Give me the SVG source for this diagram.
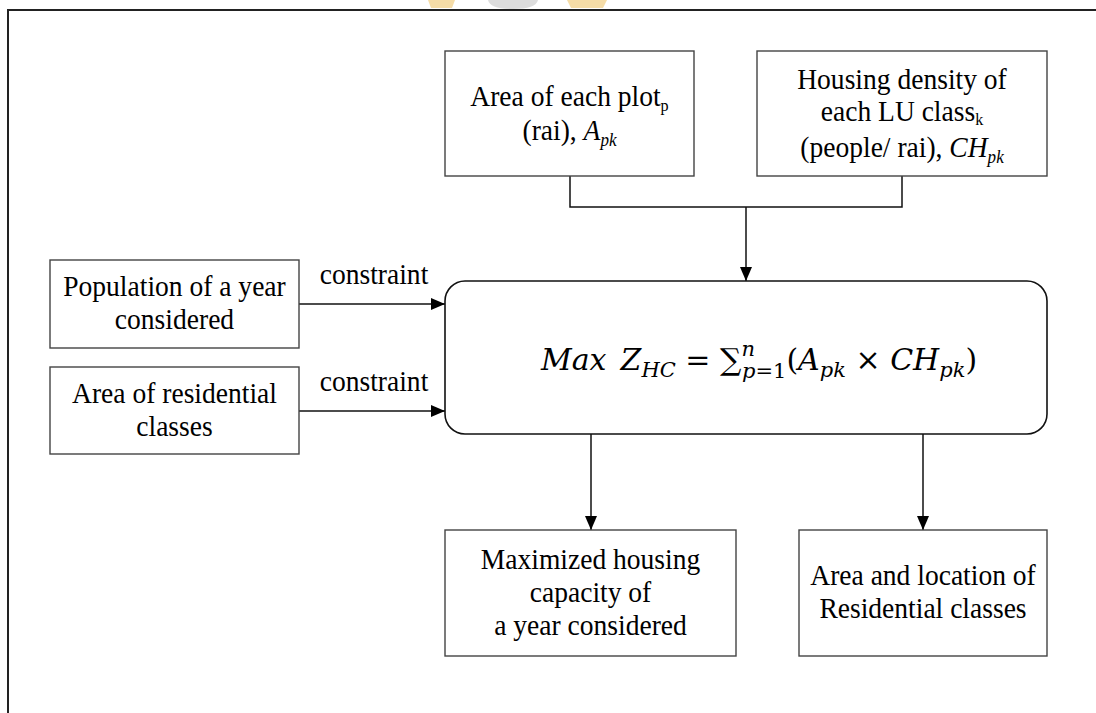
<svg xmlns="http://www.w3.org/2000/svg" width="1096" height="713" viewBox="0 0 1096 713">
<style>
.box{fill:#fff;stroke:#444;stroke-width:1.4}
.t{font-family:"Liberation Serif","Times New Roman",serif;font-size:29px;fill:#000;text-anchor:middle;transform-box:fill-box;transform-origin:center;transform:scaleX(0.95)}
.c{fill:none;stroke:#111;stroke-width:1.5}
.f{font-family:"DejaVu Serif","Liberation Serif",serif;font-size:30px;fill:#000}
</style>
<defs>
<marker id="ah" viewBox="0 0 10 12" refX="10" refY="6" markerWidth="14" markerHeight="12" markerUnits="userSpaceOnUse" orient="auto" preserveAspectRatio="none">
<path d="M0,0 L10,6 L0,12 z" fill="#000"/>
</marker>
</defs>
<rect width="1096" height="713" fill="#fff"/>
<g id="watermark" opacity="0.6">
<path d="M428,0 L455,0 L452,8 L431,8 z" fill="#f0c66e"/>
<path d="M488,0 L538,0 Q536,9 513,9 Q490,9 488,0 z" fill="#c8c8c8"/>
<path d="M567,0 L607,0 L603,8 L571,8 z" fill="#f0c66e"/>
</g>
<g id="frame">
<path d="M8,713 L8,10 L1096,10" fill="none" stroke="#222" stroke-width="2"/>
</g>
<g id="connectors">
<path class="c" d="M570,176 L570,207 L902,207 L902,176"/>
<path class="c" d="M746,207 L746,281" marker-end="url(#ah)"/>
<path class="c" d="M299,304 L445,304" marker-end="url(#ah)"/>
<path class="c" d="M299,411 L445,411" marker-end="url(#ah)"/>
<path class="c" d="M591,434 L591,530" marker-end="url(#ah)"/>
<path class="c" d="M923,434 L923,530" marker-end="url(#ah)"/>
<text class="t" x="374" y="284">constraint</text>
<text class="t" x="374" y="391">constraint</text>
</g>
<g id="plot-area">
<rect class="box" x="445" y="51" width="249" height="125"/>
<text class="t" x="569.5" y="106">Area of each plot<tspan font-size="17" dy="5">p</tspan></text>
<text class="t" x="569.5" y="140">(rai), <tspan font-style="italic">A</tspan><tspan font-style="italic" font-size="18" dy="6">pk</tspan></text>
</g>
<g id="housing-density">
<rect class="box" x="757" y="51" width="290" height="125"/>
<text class="t" x="902" y="89">Housing density of</text>
<text class="t" x="902" y="121.5">each LU class<tspan font-size="17" dy="4">k</tspan></text>
<text class="t" x="902" y="157">(people/ rai), <tspan font-style="italic">CH</tspan><tspan font-style="italic" font-size="18" dy="6">pk</tspan></text>
</g>
<g id="population">
<rect class="box" x="50" y="260" width="249" height="88"/>
<text class="t" x="174.5" y="296">Population of a year</text>
<text class="t" x="174.5" y="329">considered</text>
</g>
<g id="residential-area">
<rect class="box" x="50" y="367" width="249" height="87"/>
<text class="t" x="174.5" y="403">Area of residential</text>
<text class="t" x="174.5" y="436">classes</text>
</g>
<g id="objective">
<rect x="445" y="281" width="602" height="153" rx="20" ry="20" fill="#fff" stroke="#111" stroke-width="1.6"/>
<text class="f" x="541" y="370"><tspan font-style="italic">Max</tspan><tspan dx="14" font-style="italic">Z</tspan><tspan font-style="italic" font-size="21" dy="7">HC</tspan><tspan dy="-7"> = </tspan><tspan>∑</tspan><tspan font-style="italic" font-size="21" dy="-14">n</tspan><tspan font-style="italic" font-size="21" dx="-13" dy="22">p</tspan><tspan font-size="21">=1</tspan><tspan dy="-8">(</tspan><tspan font-style="italic">A</tspan><tspan font-style="italic" font-size="21" dy="7">pk</tspan><tspan dy="-7"> × </tspan><tspan font-style="italic">CH</tspan><tspan font-style="italic" font-size="21" dy="7">pk</tspan><tspan dy="-7">)</tspan></text>
</g>
<g id="max-capacity">
<rect class="box" x="445" y="530" width="291" height="126"/>
<text class="t" x="590.5" y="569">Maximized housing</text>
<text class="t" x="590.5" y="602">capacity of</text>
<text class="t" x="590.5" y="635">a year considered</text>
</g>
<g id="residential-location">
<rect class="box" x="799" y="530" width="248" height="126"/>
<text class="t" x="923" y="585.5">Area and location of</text>
<text class="t" x="923" y="618.5">Residential classes</text>
</g>
</svg>
